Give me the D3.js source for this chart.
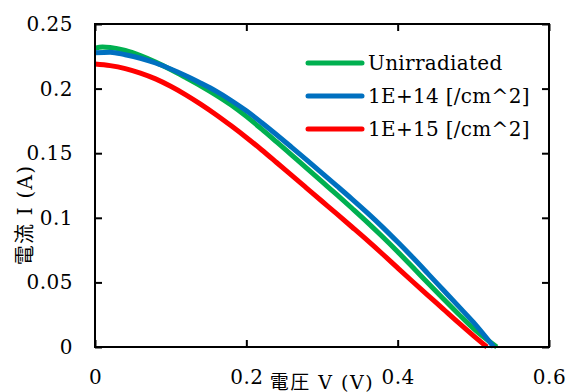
<!DOCTYPE html>
<html>
<head>
<meta charset="utf-8">
<script src="https://cdn.jsdelivr.net/npm/d3@7"></script>
<style>
  html, body { margin: 0; padding: 0; background: #fff; }
  svg { display: block; }
</style>
</head>
<body>
<svg width="568" height="392"></svg>
<script>
const SERIES_NAMES = ["Unirradiated", "1E+14 [/cm^2]", "1E+15 [/cm^2]"];
const SERIES_COLORS = ["#00b050", "#0070c0", "#ff0000"];

// voltage (V) and current (A)
const greenV = [0, 0.01, 0.02, 0.04, 0.06, 0.08, 0.1, 0.12, 0.14, 0.16, 0.18, 0.2, 0.22, 0.24, 0.26, 0.28, 0.3, 0.32, 0.34, 0.36, 0.38, 0.4, 0.42, 0.44, 0.46, 0.48, 0.5, 0.52, 0.531];
const greenI = [0.2312, 0.2322, 0.2318, 0.2295, 0.2255, 0.2205, 0.2148, 0.2085, 0.202, 0.195, 0.1873, 0.1785, 0.1688, 0.1587, 0.1485, 0.1383, 0.128, 0.1177, 0.1072, 0.0965, 0.0853, 0.0737, 0.0617, 0.0495, 0.0375, 0.0258, 0.0145, 0.0048, 0];

const blueV = [0, 0.02, 0.04, 0.06, 0.08, 0.1, 0.12, 0.14, 0.16, 0.18, 0.2, 0.22, 0.24, 0.26, 0.28, 0.3, 0.32, 0.34, 0.36, 0.38, 0.4, 0.42, 0.44, 0.46, 0.48, 0.5, 0.527];
const blueI = [0.2278, 0.2282, 0.2262, 0.2235, 0.2198, 0.2152, 0.21, 0.2042, 0.198, 0.1908, 0.1828, 0.1738, 0.1643, 0.1545, 0.1446, 0.1346, 0.1245, 0.1143, 0.1038, 0.0928, 0.0812, 0.0692, 0.0568, 0.0443, 0.0318, 0.0192, 0];

const redV = [0, 0.02, 0.04, 0.06, 0.08, 0.1, 0.12, 0.14, 0.16, 0.18, 0.2, 0.22, 0.24, 0.26, 0.28, 0.3, 0.32, 0.34, 0.36, 0.38, 0.4, 0.42, 0.44, 0.46, 0.48, 0.5, 0.518];
const redI = [0.219, 0.2178, 0.2155, 0.212, 0.2075, 0.2018, 0.1952, 0.1878, 0.1798, 0.1712, 0.1622, 0.1527, 0.1428, 0.1328, 0.1228, 0.1128, 0.1028, 0.0927, 0.0825, 0.072, 0.0612, 0.0505, 0.04, 0.0295, 0.019, 0.0088, 0];

const X_TICKS = [0, 0.2, 0.4, 0.6];
const Y_TICKS = [0, 0.05, 0.1, 0.15, 0.2, 0.25];

const FONT = '"DejaVu Serif", serif';
const FONT_JP = '"DejaVu Serif", "Noto Sans CJK JP", serif';

const MARGIN = { left: 95, top: 24, right: 19, bottom: 45 };
const WIDTH = 568 - MARGIN.left - MARGIN.right;
const HEIGHT = 392 - MARGIN.top - MARGIN.bottom;

const svg = d3.select("svg");
const x = d3.scaleLinear().domain([0, 0.6]).range([0, WIDTH]);
const y = d3.scaleLinear().domain([0, 0.25]).range([HEIGHT, 0]);

const g = svg.append("g").attr("transform", `translate(${MARGIN.left},${MARGIN.top})`);

const series = [
  { name: SERIES_NAMES[0], color: SERIES_COLORS[0], pts: greenV.map((v, i) => [v, greenI[i]]) },
  { name: SERIES_NAMES[1], color: SERIES_COLORS[1], pts: blueV.map((v, i) => [v, blueI[i]]) },
  { name: SERIES_NAMES[2], color: SERIES_COLORS[2], pts: redV.map((v, i) => [v, redI[i]]) },
];

const line = d3.line().x((d) => x(d[0])).y((d) => y(d[1])).curve(d3.curveMonotoneX);

g.append("g")
  .selectAll("path")
  .data(series)
  .enter()
  .append("path")
  .attr("d", (d) => line(d.pts))
  .attr("fill", "none")
  .attr("stroke", (d) => d.color)
  .attr("stroke-width", 5)
  .attr("stroke-linejoin", "round");

// frame with inward ticks on all sides
const tickFmt = (d) => (d === 0 ? "0" : String(d));
const styleAxis = (sel) => {
  sel.select(".domain").remove();
  sel.selectAll("line").attr("stroke", "#000").attr("stroke-width", 2);
  sel.selectAll("text")
    .style("font-family", FONT)
    .style("font-size", "20px")
    .style("letter-spacing", "0.5px")
    .attr("fill", "#000");
};

g.append("g")
  .attr("transform", `translate(0,${HEIGHT})`)
  .call(d3.axisBottom(x).tickValues(X_TICKS).tickSize(-7).tickPadding(23).tickFormat(tickFmt))
  .call(styleAxis);

g.append("g")
  .call(d3.axisTop(x).tickValues(X_TICKS).tickSize(-7).tickFormat(""))
  .call(styleAxis);

g.append("g")
  .call(d3.axisLeft(y).tickValues(Y_TICKS).tickSize(-7).tickPadding(22).tickFormat(tickFmt))
  .call(styleAxis);

g.append("g")
  .attr("transform", `translate(${WIDTH},0)`)
  .call(d3.axisRight(y).tickValues(Y_TICKS).tickSize(-7).tickFormat(""))
  .call(styleAxis);

g.append("rect")
  .attr("width", WIDTH)
  .attr("height", HEIGHT)
  .attr("fill", "none")
  .attr("stroke", "#000")
  .attr("stroke-width", 2);

// axis titles
svg.append("text")
  .attr("x", 322)
  .attr("y", 389)
  .attr("text-anchor", "middle")
  .style("font-family", FONT_JP)
  .style("font-size", "19px")
  .style("letter-spacing", "1.5px")
  .text("電圧 V (V)");

svg.append("text")
  .attr("transform", "translate(32,215) rotate(-90)")
  .attr("text-anchor", "middle")
  .style("font-family", FONT_JP)
  .style("font-size", "20px")
  .style("letter-spacing", "1.2px")
  .text("電流 I (A)");

// legend
const legend = svg.append("g").attr("transform", "translate(308,63)");
const items = legend
  .selectAll("g")
  .data(series)
  .enter()
  .append("g")
  .attr("transform", (d, i) => `translate(0,${i * 33})`);

items.append("line")
  .attr("x1", 0)
  .attr("x2", 54)
  .attr("stroke", (d) => d.color)
  .attr("stroke-width", 5)
  .attr("stroke-linecap", "round");

items.append("text")
  .attr("x", 60)
  .attr("dy", "0.35em")
  .style("font-family", FONT)
  .style("font-size", "20px")
  .style("letter-spacing", "0.3px")
  .text((d) => d.name);
</script>
</body>
</html>
